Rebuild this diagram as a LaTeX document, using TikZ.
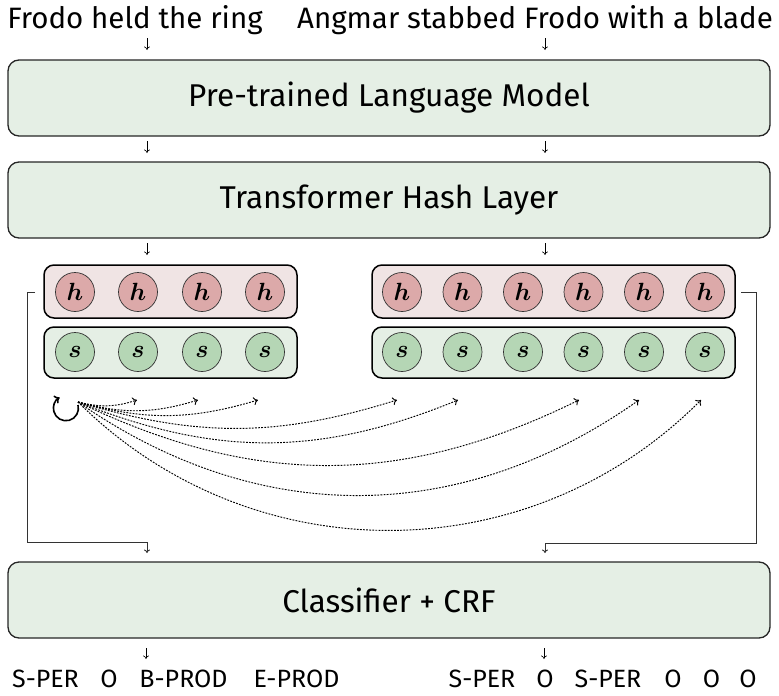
\documentclass[tikz,border=0pt]{standalone}
\usepackage{fontspec}
\setmainfont{Fira Sans}
\usepackage{amsmath,amssymb,bm}
\usetikzlibrary{arrows.meta}
\definecolor{boxgreen}{HTML}{E5EFE5}
\definecolor{rowpink}{HTML}{F0E4E4}
\definecolor{hcirc}{HTML}{DCA9A9}
\definecolor{scirc}{HTML}{B5D6B5}
\tikzset{
  bigbox/.style={draw=black!85, line width=1.3pt, rounded corners=11pt, fill=boxgreen,
    minimum width=762pt, minimum height=76pt, inner sep=0pt, font=\fontsize{31.5}{34}\selectfont},
  hrow/.style={draw=black, line width=1.5pt, rounded corners=10pt, fill=rowpink, minimum height=53pt, inner sep=0pt},
  srow/.style={draw=black, line width=1.5pt, rounded corners=10pt, fill=boxgreen, minimum height=51pt, inner sep=0pt},
  hnode/.style={circle, draw=black!80, line width=0.7pt, fill=hcirc, minimum size=39pt, inner sep=0pt, font=\fontsize{28}{30}\selectfont},
  snode/.style={circle, draw=black!80, line width=0.7pt, fill=scirc, minimum size=39pt, inner sep=0pt, font=\fontsize{28}{30}\selectfont},
  toptxt/.style={font=\fontsize{29.5}{32}\selectfont, inner sep=0pt, anchor=base},
  txt/.style={font=\fontsize{25}{28}\selectfont, inner sep=0pt, anchor=base},
  arr/.style={line width=0.6pt, -{To[length=3.5pt,width=6pt]}},
  feed/.style={draw=black!80, line width=0.9pt, -{To[length=3.5pt,width=6pt]}},
  attn/.style={dash pattern=on 1.8pt off 1.3pt, line width=0.95pt, -{To[length=4.5pt,width=8pt]}},
  selfloop/.style={line width=1.6pt, -{To[length=5pt,width=9pt]}}
}
\begin{document}
\begin{tikzpicture}[x=1pt,y=1pt]
\useasboundingbox (0,0) rectangle (779,-696);
% top sentences
\node[toptxt] (s1) at (135,-28) {Frodo held the ring};
\node[toptxt] (s2) at (535,-28) {Angmar stabbed Frodo with a blade};
% boxes
\node[bigbox] (plm) at (389,-98) {Pre-trained Language Model};
\node[bigbox] (thl) at (389,-200) {Transformer Hash Layer};
\node[bigbox] (crf) at (389,-600) {Classifier + CRF};
% rows
\node[hrow, minimum width=253pt] (hl) at (170.5,-291.5) {};
\node[srow, minimum width=253pt] (sl) at (170.5,-352.5) {};
\node[hrow, minimum width=363pt] (hr) at (553.5,-291.5) {};
\node[srow, minimum width=363pt] (sr) at (553.5,-352.5) {};
\foreach \x [count=\i] in {75,138,202,265}{
  \node[hnode] (hl\i) at (\x,-292) {$\bm{h}$};
  \node[snode] (sl\i) at (\x,-352) {$\bm{s}$};
}
\foreach \x [count=\i] in {402,462.5,523,583.5,644,705}{
  \node[hnode] (hr\i) at (\x,-292) {$\bm{h}$};
  \node[snode] (sr\i) at (\x,-352) {$\bm{s}$};
}
% small vertical arrows
\coordinate (a1s) at (147,-38); \coordinate (a1e) at (147,-50);
\coordinate (a2s) at (545,-38); \coordinate (a2e) at (545,-50);
\coordinate (b1s) at (147,-141); \coordinate (b1e) at (147,-153);
\coordinate (b2s) at (545,-141); \coordinate (b2e) at (545,-153);
\coordinate (c1s) at (147,-243); \coordinate (c1e) at (147,-255);
\coordinate (c2s) at (545,-243); \coordinate (c2e) at (545,-255);
\coordinate (d1s) at (146,-648); \coordinate (d1e) at (146,-659);
\coordinate (d2s) at (544,-648); \coordinate (d2e) at (544,-659);
\foreach \p in {a1,a2,b1,b2,c1,c2,d1,d2}{\draw[arr] (\p s) -- (\p e);}
% feedback brackets
\coordinate (lt) at (35,-292); \coordinate (le) at (147,-553);
\draw[feed] (lt) -- (27,-292) -- (27,-542) -| (le);
\coordinate (rt) at (741,-292); \coordinate (re) at (545,-553);
\draw[feed] (rt) -- (756,-292) -- (756,-543) -| (re);
% self loop
\coordinate (loopstart) at (78,-405);
\draw[selfloop] (loopstart) arc[start angle=15, end angle=-240, radius=12.5];
% attention arcs
\coordinate (src) at (78,-402);
\foreach \x/\b [count=\i] in {137/16,198/16,258/16,397/17,458/22,579/26,639/35,701/45}{
  \coordinate (t\i) at (\x,-400);
  \draw[attn] (src) to[bend right=\b] (t\i);
}
% labels
\node[txt] (l1) at (45.5,-687) {S-PER};
\node[txt] (l2) at (109,-687) {O};
\node[txt] (l3) at (183.5,-687) {B-PROD};
\node[txt] (l4) at (296.5,-687) {E-PROD};
\node[txt] (r1) at (482,-687) {S-PER};
\node[txt] (r2) at (545,-687) {O};
\node[txt] (r3) at (608,-687) {S-PER};
\node[txt] (r4) at (673,-687) {O};
\node[txt] (r5) at (711.5,-687) {O};
\node[txt] (r6) at (748,-687) {O};
\end{tikzpicture}
\end{document}
